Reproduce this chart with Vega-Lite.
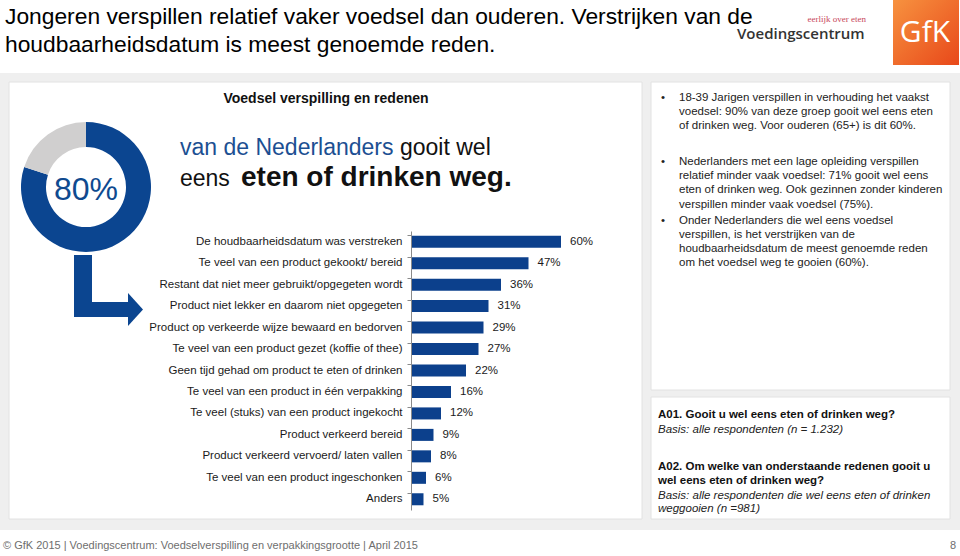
{
  "$schema": "https://vega.github.io/schema/vega-lite/v6.json",
  "width": 150,
  "height": 279,
  "autosize": {"type": "none"},
  "padding": {"left": 411, "top": 231, "right": 399, "bottom": 46},
  "background": "#ffffff",
  "config": {"view": {"stroke": null}, "font": "Liberation Sans"},
  "datasets": {
    "redenen": [
      {"reden": "De houdbaarheidsdatum was verstreken", "aandeel": 0.60},
      {"reden": "Te veel van een product gekookt/ bereid", "aandeel": 0.47},
      {"reden": "Restant dat niet meer gebruikt/opgegeten wordt", "aandeel": 0.36},
      {"reden": "Product niet lekker en daarom niet opgegeten", "aandeel": 0.31},
      {"reden": "Product op verkeerde wijze bewaard en bedorven", "aandeel": 0.29},
      {"reden": "Te veel van een product gezet (koffie of thee)", "aandeel": 0.27},
      {"reden": "Geen tijd gehad om product te eten of drinken", "aandeel": 0.22},
      {"reden": "Te veel van een product in één verpakking", "aandeel": 0.16},
      {"reden": "Te veel (stuks) van een product ingekocht", "aandeel": 0.12},
      {"reden": "Product verkeerd bereid", "aandeel": 0.09},
      {"reden": "Product verkeerd vervoerd/ laten vallen", "aandeel": 0.08},
      {"reden": "Te veel van een product ingeschonken", "aandeel": 0.06},
      {"reden": "Anders", "aandeel": 0.05}
    ],
    "gooit": [
      {"groep": "gooit wel eens weg", "aandeel": 0.80},
      {"groep": "gooit nooit weg", "aandeel": 0.20}
    ],
    "een": [{}]
  },
  "layer": [
    {"data": {"name": "een"}, "mark": {"type": "rect", "x": -411, "x2": 549, "y": -158, "y2": 299, "fill": "#efefef"}},
    {"data": {"name": "een"}, "mark": {"type": "rect", "x": -402, "x2": 231, "y": -149, "y2": 288, "fill": "#ffffff", "stroke": "#e2e2e2", "strokeWidth": 1}},
    {"data": {"name": "een"}, "mark": {"type": "rect", "x": 240, "x2": 539, "y": -149, "y2": 159, "fill": "#ffffff", "stroke": "#e2e2e2", "strokeWidth": 1}},
    {"data": {"name": "een"}, "mark": {"type": "rect", "x": 240, "x2": 539, "y": 166, "y2": 288, "fill": "#ffffff", "stroke": "#e2e2e2", "strokeWidth": 1}},
    {"data": {"name": "een"}, "mark": {"type": "rule", "x": -396, "x2": 222, "y": -118, "stroke": "#e3e3e3", "strokeWidth": 1}, "encoding": {}},
    {"data": {"name": "een"}, "mark": {"type": "rule", "x": 467, "y": -231, "y2": -168, "stroke": "#a0a0a0", "strokeWidth": 1}, "encoding": {}},
    {"data": {"name": "een"}, "mark": {"type": "rect", "x": 482, "x2": 548, "y": -231, "y2": -166,
      "fill": {"x1": 0, "y1": 0, "x2": 1, "y2": 1, "gradient": "linear", "stops": [{"offset": 0, "color": "#f7923f"}, {"offset": 1, "color": "#e8481a"}]}}},
    {"data": {"name": "een"}, "mark": {"type": "text", "x": 514, "y": -198, "text": "GfK", "font": "Open Sans", "fontSize": 30, "fill": "#ffffff", "align": "center", "baseline": "middle"}},
    {"data": {"name": "een"}, "mark": {"type": "text", "x": 455, "y": -209, "text": "eerlijk over eten", "font": "Liberation Serif", "fontSize": 9, "fill": "#c8475b", "align": "right", "baseline": "alphabetic"}},
    {"data": {"name": "een"}, "mark": {"type": "text", "x": 326, "y": -192, "text": "Voedingscentrum", "font": "Open Sans", "fontWeight": 600, "fontSize": 15, "fill": "#333333", "align": "left", "baseline": "alphabetic"}},
    {"data": {"name": "een"}, "mark": {"type": "rule", "x": 326, "x2": 455, "y": -186, "stroke": "#d9263b", "strokeWidth": 3}, "encoding": {}},
    {"data": {"name": "een"}, "mark": {"type": "rule", "x": 326, "x2": 455, "y": -186, "stroke": "#6b2d8a", "strokeWidth": 3, "strokeDash": [6, 30], "strokeDashOffset": -8}, "encoding": {}},
    {"data": {"name": "een"}, "mark": {"type": "rule", "x": 326, "x2": 455, "y": -186, "stroke": "#f2b705", "strokeWidth": 3, "strokeDash": [6, 30], "strokeDashOffset": -20}, "encoding": {}},
    {"data": {"name": "een"}, "mark": {"type": "rule", "x": 326, "x2": 455, "y": -186, "stroke": "#222222", "strokeWidth": 3, "strokeDash": [6, 30], "strokeDashOffset": -29}, "encoding": {}},
    {"data": {"name": "een"}, "mark": {"type": "text", "x": -406, "y": -207, "text": ["Jongeren verspillen relatief vaker voedsel dan ouderen. Verstrijken van de", "houdbaarheidsdatum is meest genoemde reden."], "fontSize": 22.8, "lineHeight": 28, "fill": "#000000", "align": "left", "baseline": "alphabetic"}},
    {"data": {"name": "een"}, "mark": {"type": "text", "x": -85, "y": -128, "text": "Voedsel verspilling en redenen", "fontSize": 14, "fontWeight": "bold", "fill": "#111111", "align": "center", "baseline": "alphabetic"}},
    {"data": {"name": "gooit"}, "mark": {"type": "arc", "x": -325, "y": -44, "outerRadius": 65, "innerRadius": 40},
      "encoding": {
        "theta": {"field": "aandeel", "type": "quantitative", "stack": true},
        "order": {"field": "aandeel", "sort": "descending"},
        "color": {"field": "groep", "type": "nominal", "scale": {"domain": ["gooit wel eens weg", "gooit nooit weg"], "range": ["#0b4590", "#d0cfcf"]}, "legend": null}
      }},
    {"data": {"name": "een"}, "mark": {"type": "text", "x": -325, "y": -41, "text": "80%", "fontSize": 32, "fill": "#0f4a8f", "align": "center", "baseline": "middle"}},
    {"data": {"name": "een"}, "mark": {"type": "rect", "x": -337, "x2": -319, "y": 24, "y2": 86, "fill": "#0b4590"}},
    {"data": {"name": "een"}, "mark": {"type": "rect", "x": -337, "x2": -283, "y": 71, "y2": 86, "fill": "#0b4590"}},
    {"data": {"name": "een"}, "mark": {"type": "point", "x": -275.5, "y": 78.5, "shape": "M-0.4545,-1L0.4545,0L-0.4545,1Z", "size": 1089, "filled": true, "fill": "#0b4590", "opacity": 1, "strokeWidth": 0}},
    {"data": {"name": "een"}, "mark": {"type": "text", "x": -231, "y": -76, "text": "van de Nederlanders", "fontSize": 23, "fill": "#1c4f92", "align": "left", "baseline": "alphabetic"}},
    {"data": {"name": "een"}, "mark": {"type": "text", "x": -11, "y": -76, "text": "gooit wel", "fontSize": 23, "fill": "#111111", "align": "left", "baseline": "alphabetic"}},
    {"data": {"name": "een"}, "mark": {"type": "text", "x": -231, "y": -45, "text": "eens", "fontSize": 23, "fill": "#111111", "align": "left", "baseline": "alphabetic"}},
    {"data": {"name": "een"}, "mark": {"type": "text", "x": -170, "y": -45, "text": "eten of drinken weg.", "fontSize": 28, "fontWeight": "bold", "fill": "#111111", "align": "left", "baseline": "alphabetic"}},
    {"data": {"name": "redenen"}, "mark": {"type": "bar", "fill": "#0c408c"},
      "encoding": {
        "y": {"field": "reden", "type": "nominal", "sort": null,
              "scale": {"paddingInner": 0.44, "paddingOuter": 0.22},
              "axis": {"title": null, "zindex": 2, "domainColor": "#8a8a8a", "tickColor": "#8a8a8a", "tickSize": 4, "bandPosition": 0,
                       "labelFontSize": 11.5, "labelColor": "#1a1a1a", "labelPadding": 5, "labelLimit": 0, "labelFont": "Liberation Sans"}},
        "x": {"field": "aandeel", "type": "quantitative", "scale": {"domain": [0, 0.6], "nice": false}, "axis": null}
      }},
    {"data": {"name": "redenen"}, "mark": {"type": "text", "align": "left", "baseline": "middle", "dx": 9, "fontSize": 11.5, "fill": "#1a1a1a"},
      "encoding": {
        "y": {"field": "reden", "type": "nominal", "sort": null},
        "x": {"field": "aandeel", "type": "quantitative"},
        "text": {"field": "aandeel", "type": "quantitative", "format": ".0%"}
      }},
    {"data": {"name": "een"}, "mark": {"type": "text", "x": 250, "y": -130, "text": ["•"], "fontSize": 11.5, "fill": "#222222", "align": "left", "baseline": "alphabetic"}},
    {"data": {"name": "een"}, "mark": {"type": "text", "x": 250, "y": -66, "text": ["•"], "fontSize": 11.5, "fill": "#222222", "align": "left", "baseline": "alphabetic"}},
    {"data": {"name": "een"}, "mark": {"type": "text", "x": 250, "y": -7, "text": ["•"], "fontSize": 11.5, "fill": "#222222", "align": "left", "baseline": "alphabetic"}},
    {"data": {"name": "een"}, "mark": {"type": "text", "x": 268, "y": -130, "lineHeight": 14, "fontSize": 11.5, "fill": "#222222", "align": "left", "baseline": "alphabetic",
      "text": ["18-39 Jarigen verspillen in verhouding het vaakst", "voedsel: 90% van deze groep gooit wel eens eten", "of drinken weg. Voor ouderen (65+) is dit 60%."]}},
    {"data": {"name": "een"}, "mark": {"type": "text", "x": 268, "y": -66, "lineHeight": 14.2, "fontSize": 11.5, "fill": "#222222", "align": "left", "baseline": "alphabetic",
      "text": ["Nederlanders met een lage opleiding verspillen", "relatief minder vaak voedsel: 71% gooit wel eens", "eten of drinken weg. Ook gezinnen zonder kinderen", "verspillen minder vaak voedsel (75%)."]}},
    {"data": {"name": "een"}, "mark": {"type": "text", "x": 268, "y": -7, "lineHeight": 14, "fontSize": 11.5, "fill": "#222222", "align": "left", "baseline": "alphabetic",
      "text": ["Onder Nederlanders die wel eens voedsel", "verspillen, is het verstrijken van de", "houdbaarheidsdatum de meest genoemde reden", "om het voedsel weg te gooien (60%)."]}},
    {"data": {"name": "een"}, "mark": {"type": "text", "x": 247, "y": 187, "fontSize": 11.5, "fontWeight": "bold", "fill": "#111111", "align": "left", "baseline": "alphabetic",
      "text": "A01. Gooit u wel eens eten of drinken weg?"}},
    {"data": {"name": "een"}, "mark": {"type": "text", "x": 247, "y": 202, "fontSize": 11.5, "fontStyle": "italic", "fill": "#222222", "align": "left", "baseline": "alphabetic",
      "text": "Basis: alle respondenten (n = 1.232)"}},
    {"data": {"name": "een"}, "mark": {"type": "text", "x": 247, "y": 239, "lineHeight": 13.5, "fontSize": 11.5, "fontWeight": "bold", "fill": "#111111", "align": "left", "baseline": "alphabetic",
      "text": ["A02. Om welke van onderstaande redenen gooit u", "wel eens eten of drinken weg?"]}},
    {"data": {"name": "een"}, "mark": {"type": "text", "x": 247, "y": 268, "lineHeight": 13, "fontSize": 11.5, "fontStyle": "italic", "fill": "#222222", "align": "left", "baseline": "alphabetic",
      "text": ["Basis: alle respondenten die wel eens eten of drinken", "weggooien (n =981)"]}},
    {"data": {"name": "een"}, "mark": {"type": "text", "x": -408, "y": 318, "fontSize": 11, "fill": "#6e6e6e", "align": "left", "baseline": "alphabetic",
      "text": "© GfK 2015 | Voedingscentrum: Voedselverspilling en verpakkingsgrootte | April 2015"}},
    {"data": {"name": "een"}, "mark": {"type": "text", "x": 545, "y": 318, "fontSize": 11, "fill": "#6e6e6e", "align": "right", "baseline": "alphabetic", "text": "8"}}
  ]
}
